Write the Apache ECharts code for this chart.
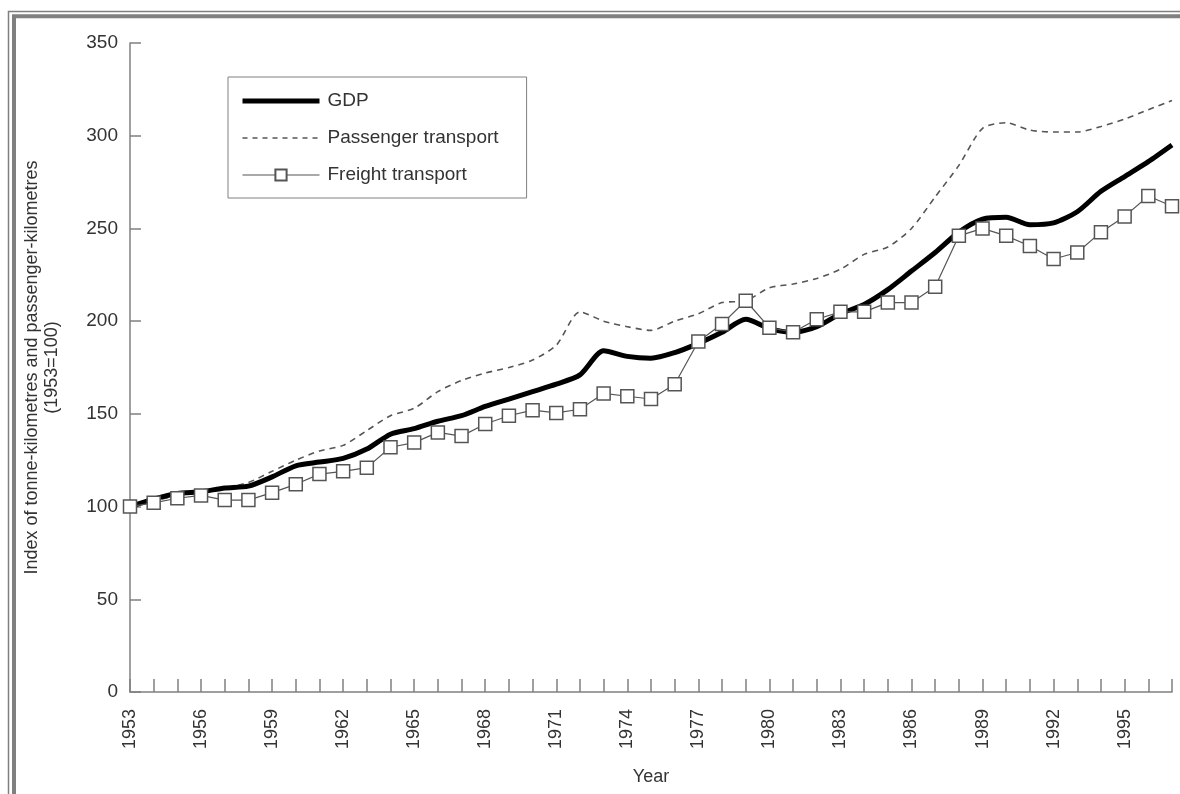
<!DOCTYPE html>
<html>
<head>
<meta charset="utf-8">
<title>GDP and transport index</title>
<script src="https://cdn.jsdelivr.net/npm/echarts@6/dist/echarts.min.js"></script>
<style>
  html, body { margin: 0; padding: 0; background: #fff; }
  #chart { width: 1180px; height: 794px; }
</style>
</head>
<body>
<div id="chart"></div>
<script>
// 数据
var years = ['1953','1954','1955','1956','1957','1958','1959','1960','1961','1962',
  '1963','1964','1965','1966','1967','1968','1969','1970','1971','1972',
  '1973','1974','1975','1976','1977','1978','1979','1980','1981','1982',
  '1983','1984','1985','1986','1987','1988','1989','1990','1991','1992',
  '1993','1994','1995','1996','1997'];

var gdp = [100, 104, 107, 108, 110, 111, 116, 122, 124, 126,
  131, 139, 142, 146, 149, 154, 158, 162, 166, 171,
  184, 181, 180, 183, 188, 194, 201, 196, 194, 197,
  204, 209, 217, 227, 237, 248, 255, 256, 252, 253,
  259, 270, 278, 286, 295];

var passenger = [100, 103, 106, 108, 110, 113, 119, 125, 130, 133,
  141, 149, 153, 162, 168, 172, 175, 179, 187, 205,
  200, 197, 195, 200, 204, 210, 211, 218, 220, 223,
  228, 236, 240, 250, 267, 284, 304, 307, 303, 302,
  302, 305, 309, 314, 319];

var freight = [100, 102, 104.5, 106, 103.5, 103.5, 107.5, 112, 117.5, 119,
  121, 132, 134.5, 140, 138, 144.5, 149, 152, 150.5, 152.5,
  161, 159.5, 158, 166, 189, 198.5, 211, 196.5, 194, 201,
  205, 205, 210, 210, 218.5, 246, 250, 246, 240.5, 233.5,
  237, 248, 256.5, 267.5, 262];

var yTicks = { min: 0, max: 350, interval: 50 };

var font = 'Liberation Sans, Arial, Helvetica, sans-serif';
var textColor = '#333';
var axisColor = '#808080';

var chart = echarts.init(document.getElementById('chart'));

var option = {
  animation: false,
  backgroundColor: '#fff',
  textStyle: { fontFamily: font },
  // 外框（双线）
  graphic: [
    {
      type: 'rect', z: -1, silent: true,
      shape: { x: 8.5, y: 11.5, width: 1200, height: 800 },
      style: { fill: 'none', stroke: axisColor, lineWidth: 1.5 }
    },
    {
      type: 'rect', z: -1, silent: true,
      shape: { x: 14, y: 16.3, width: 1200, height: 800 },
      style: { fill: 'none', stroke: axisColor, lineWidth: 4 }
    }
  ],
  legend: {
    orient: 'vertical',
    left: 228,
    top: 77,
    padding: [14, 28, 13, 12],
    borderColor: axisColor,
    borderWidth: 1,
    itemWidth: 77,
    itemHeight: 14,
    itemGap: 17,
    textStyle: {
      fontFamily: font,
      fontSize: 19,
      color: textColor,
      lineHeight: 20,
      padding: [0, 0, 0, 3]
    },
    data: [
      // 图例里只画线，不画点
      { name: 'GDP', itemStyle: { opacity: 0 }, lineStyle: { width: 5, color: '#000' } },
      { name: 'Passenger transport', itemStyle: { opacity: 0 }, lineStyle: { width: 1.4, color: '#555', type: [5, 5] } },
      { name: 'Freight transport', lineStyle: { width: 1.2, color: '#555' } }
    ]
  },
  grid: {
    left: 130,
    right: 8,
    top: 43,
    bottom: 102
  },
  xAxis: {
    type: 'category',
    data: years,
    boundaryGap: false,
    name: 'Year',
    nameLocation: 'middle',
    nameGap: 76,
    nameTextStyle: { fontFamily: font, fontSize: 18, color: textColor },
    axisLine: { lineStyle: { color: axisColor, width: 1.5 } },
    axisTick: {
      inside: true,
      length: 13,
      interval: 0,
      lineStyle: { color: axisColor, width: 1.5 }
    },
    axisLabel: {
      interval: 2,
      rotate: 90,
      margin: 17,
      fontFamily: font,
      fontSize: 18,
      color: textColor
    },
    splitLine: { show: false }
  },
  yAxis: {
    type: 'value',
    min: yTicks.min,
    max: yTicks.max,
    interval: yTicks.interval,
    name: 'Index of tonne-kilometres and passenger-kilometres\n(1953=100)',
    nameLocation: 'middle',
    nameRotate: 90,
    nameGap: 68,
    nameTextStyle: { fontFamily: font, fontSize: 18, color: textColor, lineHeight: 20 },
    axisLine: { show: true, lineStyle: { color: axisColor, width: 1.5 } },
    axisTick: {
      show: true,
      inside: true,
      length: 11,
      lineStyle: { color: axisColor, width: 1.5 }
    },
    axisLabel: {
      margin: 12,
      fontFamily: font,
      fontSize: 19,
      color: textColor
    },
    splitLine: { show: false }
  },
  series: [
    {
      name: 'GDP',
      type: 'line',
      data: gdp,
      symbol: 'none',
      smooth: 0.25,
      color: '#000',
      lineStyle: { color: '#000', width: 5 },
      z: 3
    },
    {
      name: 'Passenger transport',
      type: 'line',
      data: passenger,
      symbol: 'none',
      smooth: 0.25,
      color: '#555',
      lineStyle: { color: '#555', width: 1.6, type: [6, 5] },
      z: 2
    },
    {
      name: 'Freight transport',
      type: 'line',
      data: freight,
      symbol: 'rect',
      symbolSize: 13,
      color: '#555',
      itemStyle: { color: '#fff', borderColor: '#555', borderWidth: 1.5 },
      lineStyle: { color: '#555', width: 1.2 },
      z: 4
    }
  ]
};

chart.setOption(option);
</script>
</body>
</html>
